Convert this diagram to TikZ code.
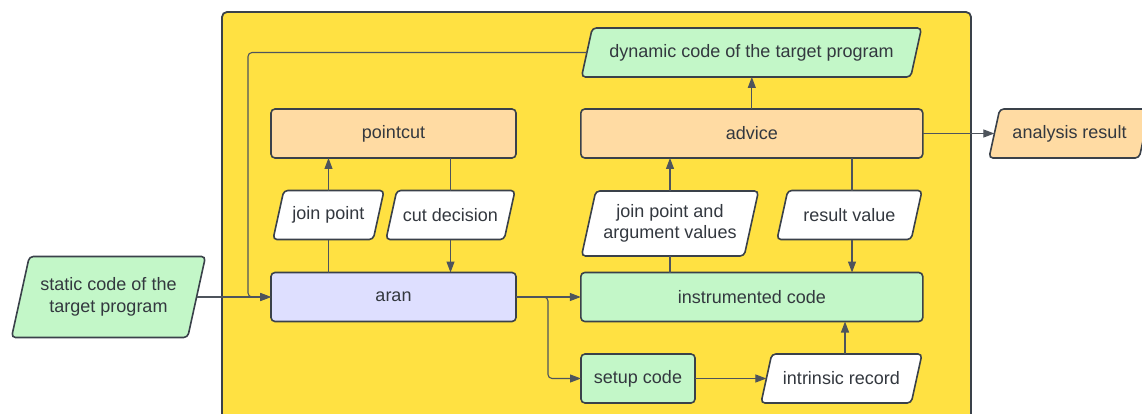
\documentclass[tikz,border=0pt]{standalone}
\usepackage{fontspec}
\setmainfont{Liberation Sans}
\usetikzlibrary{arrows.meta}
\definecolor{ybg}{HTML}{FFE142}
\definecolor{gfill}{HTML}{C3F7C8}
\definecolor{ofill}{HTML}{FFDBA3}
\definecolor{lfill}{HTML}{DEDFFF}
\definecolor{edge}{HTML}{3A414A}
\definecolor{txt}{HTML}{33383F}
\tikzset{
  box/.style={draw=edge, line width=1.6pt, rounded corners=4pt, rectangle,
    minimum height=49pt, inner sep=0pt, outer sep=0pt, text=txt,
    font=\fontsize{18}{21.5}\selectfont, align=center},
  pline/.style={draw=edge, line width=1.6pt, rounded corners=4pt},
  ptext/.style={rectangle, inner sep=0pt, outer sep=0pt, text=txt,
    font=\fontsize{18}{21.5}\selectfont, align=center},
  conn/.style={draw=edge!90, line width=1.1pt},
  arr/.style={conn, -{Triangle[length=11pt,width=8pt]}}
}
% #1 name, #2 x, #3 y, #4 total width, #5 height, #6 fill, #7 text
\newcommand\pnode[7]{%
  \pgfmathsetmacro\pslant{0.22*#5}%
  \draw[pline, fill=#6] ({#2-#4/2},{#3+#5/2}) -- ({#2+#4/2-\pslant},{#3+#5/2})
     -- ({#2+#4/2},{#3-#5/2}) -- ({#2-#4/2+\pslant},{#3-#5/2}) -- cycle;
  \node[ptext, minimum width={#4-\pslant}, minimum height=#5] (#1) at (#2,#3) {#7};
}
\begin{document}
\begin{tikzpicture}[x=1pt,y=-1pt]
\useasboundingbox (0,0) rectangle (1142,414);
% container
\draw[draw=edge, line width=1.8pt, fill=ybg, rounded corners=5pt] (222,430) -- (222,12) -- (971,12) -- (971,430);

% nodes
\pnode{static}{108.5}{297}{194}{81}{gfill}{static code of the\\target program}
\node[box, fill=lfill, minimum width=245pt] (aran) at (393.5,297) {aran};
\node[box, fill=ofill, minimum width=245pt] (pc) at (393.5,133.5) {pointcut};
\pnode{jp}{328.5}{215}{111}{49}{white}{join point}
\pnode{cd}{450.5}{215}{129}{49}{white}{cut decision}
\pnode{dyn}{751.5}{52.5}{340}{49}{gfill}{dynamic code of the target program}
\node[box, fill=ofill, minimum width=342pt] (adv) at (751.8,133.5) {advice};
\pnode{ana}{1069.5}{133.5}{161}{49}{ofill}{analysis result}
\pnode{jpav}{670}{223.5}{177}{65}{white}{join point and\\argument values}
\pnode{rv}{849.5}{215}{145}{49}{white}{result value}
\node[box, fill=gfill, minimum width=342pt] (instr) at (751.8,297) {instrumented code};
\node[box, fill=gfill, minimum width=114pt] (setup) at (638,378.5) {setup code};
\pnode{intr}{841.5}{378.5}{161}{49}{white}{intrinsic record}

\coordinate (loop) at (248,297);
\coordinate (branch) at (548,297);

% connectors
\draw[arr] (static.east) -- (aran.west);
\draw[arr, rounded corners=4pt] (dyn.west) -| (loop) -- (aran.west);
\draw[conn] (aran.north -| jp.south) -- (jp.south);
\draw[arr] (jp.north) -- (jp.north |- pc.south);
\draw[conn] (cd.north |- pc.south) -- (cd.north);
\draw[arr] (cd.south) -- (cd.south |- aran.north);
\draw[arr] (aran.east) -- (instr.west);
\draw[arr, rounded corners=4pt] (aran.east) -- (branch) |- (setup.west);
\draw[arr] (setup.east) -- (intr.west);
\draw[arr] ([xshift=3.5pt]intr.north) -- ([xshift=3.5pt]intr.north |- instr.south);
\draw[conn] (instr.north -| jpav.south) -- (jpav.south);
\draw[arr] (jpav.north) -- (jpav.north |- adv.south);
\draw[conn] ([xshift=2.5pt]rv.north |- adv.south) -- ([xshift=2.5pt]rv.north);
\draw[arr] ([xshift=2.5pt]rv.south) -- ([xshift=2.5pt]rv.south |- instr.north);
\draw[arr] (adv.north) -- (adv.north |- dyn.south);
\draw[arr] (adv.east) -- (ana.west);
\end{tikzpicture}
\end{document}
